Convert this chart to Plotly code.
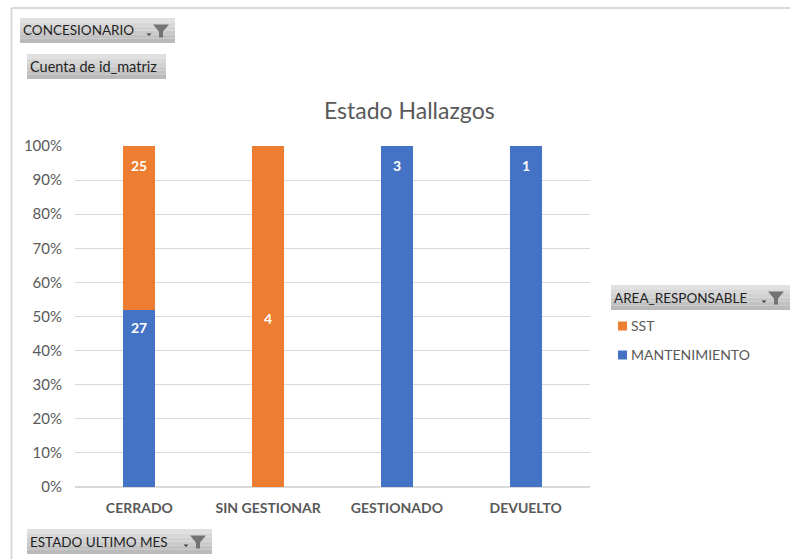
import plotly.graph_objects as go

W, H = 790, 559
categories = ["CERRADO", "SIN GESTIONAR", "GESTIONADO", "DEVUELTO"]
sst_values = [25, 4, 0, 0]
mantenimiento_values = [27, 0, 3, 1]
ORANGE, BLUE = "#ED7D31", "#4472C4"
FONT = "Lato"

def px(x): return x / W
def py(y): return 1 - y / H

shapes, annotations = [], []

# chart frame
for x0, y0, x1, y1 in [(11.5, 8, 790, 8), (11.5, 8, 11.5, 559)]:
    shapes.append(dict(type="line", xref="paper", yref="paper", x0=px(x0), x1=px(x1), y0=py(y0), y1=py(y1),
                       line=dict(color="#DADADA", width=2), layer="below"))

def button(x0, y0, x1, y1, label, funnel=True, size=13.5):
    n = 6
    h = (y1 - y0) / n
    top, bot = (224, 224, 224), (186, 186, 186)
    for i in range(n):
        t = i / (n - 1)
        c = tuple(round(a + (b - a) * t) for a, b in zip(top, bot))
        shapes.append(dict(type="rect", xref="paper", yref="paper", x0=px(x0), x1=px(x1),
                           y0=py(y0 + i * h), y1=py(y0 + (i + 1) * h), line=dict(width=0),
                           fillcolor="rgb(%d,%d,%d)" % c, layer="below"))
    annotations.append(dict(text=label, xref="paper", yref="paper", x=px(x0 + 1), y=py((y0 + y1) / 2),
                            xanchor="left", yanchor="middle", showarrow=False,
                            font=dict(family=FONT, size=size, color="#1F1F1F")))
    if funnel:
        fx, fy = x1 - 14, (y0 + y1) / 2
        pts = [(fx - 8, fy - 6), (fx + 8, fy - 6), (fx + 2, fy + 1), (fx + 2, fy + 7), (fx - 2, fy + 7), (fx - 2, fy + 1)]
        shapes.append(dict(type="path", xref="paper", yref="paper", line=dict(width=0), fillcolor="#737373",
                           path="M" + " L".join("%.5f,%.5f" % (px(a), py(b)) for a, b in pts) + " Z"))
        cx, cy = fx - 12, fy + 3
        car = [(cx - 2.5, cy), (cx + 2.5, cy), (cx, cy + 2.5)]
        shapes.append(dict(type="path", xref="paper", yref="paper", line=dict(width=0), fillcolor="#404040",
                           path="M" + " L".join("%.5f,%.5f" % (px(a), py(b)) for a, b in car) + " Z"))

button(20, 18, 175, 43, "CONCESIONARIO")
button(27, 54, 166, 79, "Cuenta de id_matriz", funnel=False, size=14.5)
button(611, 285, 790, 310, "AREA_RESPONSABLE")
button(27, 529, 212, 554, "ESTADO ULTIMO MES")

annotations.append(dict(text="Estado Hallazgos", xref="paper", yref="paper", x=px(409), y=py(110),
                        xanchor="center", yanchor="middle", showarrow=False,
                        font=dict(family=FONT, size=23, color="#595959")))

# legend, drawn by hand so swatch and text sit as close as in the reference
for name, color, ly in [("SST", ORANGE, 326), ("MANTENIMIENTO", BLUE, 355)]:
    shapes.append(dict(type="rect", xref="paper", yref="paper", x0=px(618), x1=px(627), y0=py(ly - 4.5), y1=py(ly + 4.5),
                       line=dict(width=0), fillcolor=color))
    annotations.append(dict(text=name, xref="paper", yref="paper", x=px(629), y=py(ly - 1), xanchor="left", yanchor="middle",
                            showarrow=False, font=dict(family=FONT, size=14, color="#595959")))

# data labels, placed near the top of each segment as in the reference
for i, cat in enumerate(categories):
    total = sst_values[i] + mantenimiento_values[i]
    m, s = mantenimiento_values[i], sst_values[i]
    if s and m:
        items = [(s, 100.0), (m, 100.0 * m / total)]
        offs = [-20, -18]
    elif s:
        items = [(s, 50.0)]
        offs = [-2]
    else:
        items = [(m, 100.0)]
        offs = [-20]
    for (v, top_pct), off in zip(items, offs):
        annotations.append(dict(text="<b>%d</b>" % v, x=cat, y=top_pct, xref="x", yref="y", yshift=off,
                                showarrow=False, font=dict(family=FONT, size=14, color="white")))

fig = go.Figure()
fig.add_bar(name="MANTENIMIENTO", x=categories, y=mantenimiento_values, marker=dict(color=BLUE, line_width=0))
fig.add_bar(name="SST", x=categories, y=sst_values, marker=dict(color=ORANGE, line_width=0))

fig.update_layout(
    width=W, height=H, autosize=False,
    margin=dict(l=0, r=0, t=0, b=0), paper_bgcolor="white", plot_bgcolor="white",
    barmode="stack", barnorm="percent", bargap=0.75,
    font=dict(family=FONT, color="#595959"),
    showlegend=False,
    xaxis=dict(domain=[px(75), px(590)], anchor="y", showgrid=False, showline=False, ticks="",
               automargin=False, ticklabelstandoff=11,
               tickfont=dict(family=FONT, size=14, color="#595959", weight="bold")),
    yaxis=dict(domain=[py(487), py(146)], range=[0, 100], dtick=10, ticksuffix="%", anchor="x",
               gridcolor="#D9D9D9", gridwidth=1, zeroline=True, zerolinecolor="#D9D9D9", automargin=False,
               ticklabelstandoff=12, tickfont=dict(family=FONT, size=15, color="#595959")),
    shapes=shapes, annotations=annotations,
)
fig.write_html("out.html", config=dict(displayModeBar=False),
               post_script="document.body.style.margin='0';document.documentElement.style.overflow='hidden';")
